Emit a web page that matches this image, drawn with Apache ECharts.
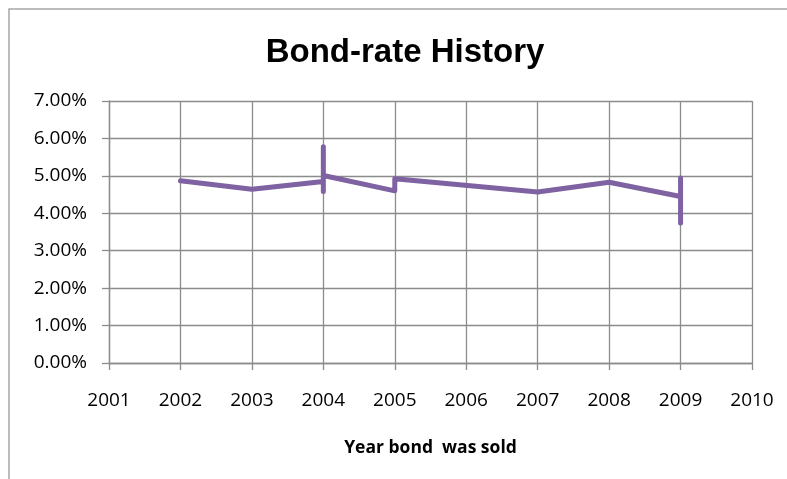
<!DOCTYPE html>
<html>
<head>
<meta charset="utf-8">
<script src="https://cdn.jsdelivr.net/npm/echarts@6/dist/echarts.min.js"></script>
<style>
html,body{margin:0;padding:0;background:#fff;}
#chart{width:787px;height:479px;}
</style>
</head>
<body>
<div id="chart"></div>
<script>
// Data (rates in percent)
const years = [2002, 2003, 2004, 2004, 2004, 2004, 2005, 2005, 2007, 2008, 2009, 2009, 2009];
const rates = [4.87, 4.64, 4.85, 5.78, 4.58, 5.01, 4.60, 4.92, 4.57, 4.83, 4.45, 4.94, 3.74];
const xTicks = [2001, 2002, 2003, 2004, 2005, 2006, 2007, 2008, 2009, 2010];
const yTicks = ['0.00%', '1.00%', '2.00%', '3.00%', '4.00%', '5.00%', '6.00%', '7.00%'];
const titleText = 'Bond-rate History';
const xAxisTitle = 'Year bond  was sold';

const chart = echarts.init(document.getElementById('chart'), null, {renderer: 'canvas'});
const gridColor = '#8c8c8c';
const points = years.map((y, i) => [y, rates[i] / 100]);

chart.setOption({
  animation: false,
  backgroundColor: '#ffffff',
  graphic: [
    {type: 'rect', shape: {x: 9, y: 9, width: 820, height: 520}, style: {fill: 'none', stroke: '#a6a6a6', lineWidth: 1.5}, silent: true},
    {type: 'text', x: 405, y: 53, style: {text: titleText, font: 'bold 33px "Liberation Sans", Arial, sans-serif', fill: '#000', textAlign: 'center', textVerticalAlign: 'middle'}}
  ],
  grid: {left: 109, right: 35, top: 101, bottom: 116, containLabel: false},
  xAxis: {
    type: 'value',
    min: xTicks[0], max: xTicks[xTicks.length - 1], interval: 1,
    name: xAxisTitle, nameLocation: 'middle', nameGap: 76,
    nameTextStyle: {fontFamily: 'Open Sans', fontWeight: 'bold', fontSize: 17.5, color: '#000'},
    axisLine: {show: true, onZero: false, lineStyle: {color: gridColor, width: 1.3}},
    axisTick: {show: true, length: 7, lineStyle: {color: gridColor, width: 1.3}},
    splitLine: {show: true, lineStyle: {color: gridColor, width: 1.3}},
    axisLabel: {margin: 28, fontFamily: 'Open Sans', fontSize: 19, color: '#000', formatter: v => String(v)}
  },
  yAxis: {
    type: 'value',
    min: 0, max: (yTicks.length - 1) / 100, interval: 0.01,
    axisLine: {show: true, lineStyle: {color: gridColor, width: 1.3}},
    axisTick: {show: true, length: 7, lineStyle: {color: gridColor, width: 1.3}},
    splitLine: {show: true, lineStyle: {color: gridColor, width: 1.3}},
    axisLabel: {margin: 22, fontFamily: 'Open Sans', fontSize: 19, color: '#000',
      formatter: v => yTicks[Math.round(v * 100)]}
  },
  series: [{
    type: 'line',
    data: points,
    showSymbol: false,
    symbol: 'none',
    lineStyle: {color: '#7E62A2', width: 5, cap: 'round', join: 'round'},
    z: 5
  }]
});
</script>
</body>
</html>
